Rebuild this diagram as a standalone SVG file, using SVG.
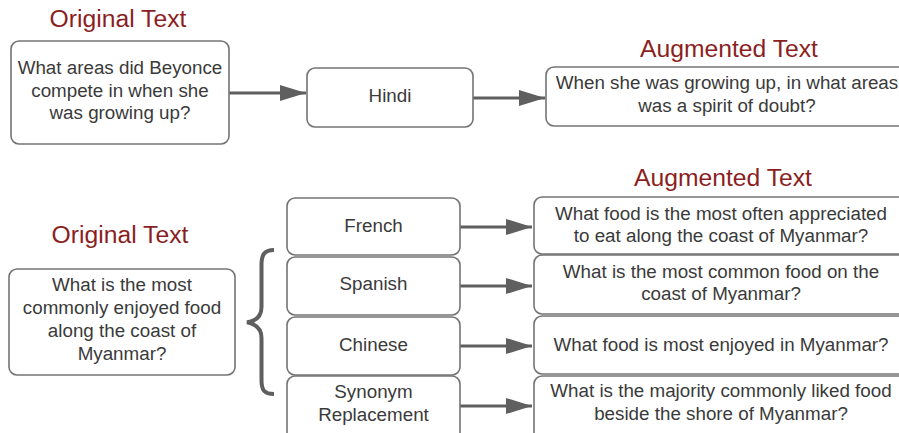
<svg xmlns="http://www.w3.org/2000/svg" width="899" height="433" viewBox="0 0 899 433">
<defs>
<marker id="ah" viewBox="0 0 26 16" refX="26" refY="8" markerWidth="26" markerHeight="16" markerUnits="userSpaceOnUse" orient="auto">
<path d="M0,0 L26,8 L0,16 Z" fill="#5f5f5f"/>
</marker>
<style>
.box{fill:#fff;stroke:#747474;stroke-width:1.6}
.t{font-family:"Liberation Sans",Arial,sans-serif;font-size:18.8px;fill:#3a3a3a;text-anchor:middle}
.h{font-family:"Liberation Sans",Arial,sans-serif;font-size:24.7px;fill:#8b1f1f;text-anchor:middle}
.c{stroke:#5f5f5f;stroke-width:3;fill:none}
</style>
</defs>
<rect width="899" height="433" fill="#fff"/>
<g id="titles">
<text class="h" x="118" y="27">Original Text</text>
<text class="h" x="729" y="57">Augmented Text</text>
<text class="h" x="120" y="243">Original Text</text>
<text class="h" x="723" y="186">Augmented Text</text>
</g>
<g id="connectors">
<line class="c" x1="229" y1="93" x2="306" y2="93" marker-end="url(#ah)"/>
<line class="c" x1="473" y1="98" x2="545" y2="98" marker-end="url(#ah)"/>
<line class="c" x1="460" y1="227" x2="532" y2="227" marker-end="url(#ah)"/>
<line class="c" x1="460" y1="286" x2="532" y2="286" marker-end="url(#ah)"/>
<line class="c" x1="460" y1="346" x2="532" y2="346" marker-end="url(#ah)"/>
<line class="c" x1="460" y1="406" x2="532" y2="406" marker-end="url(#ah)"/>
<path id="brace" d="M274,250 C264,250 261.5,255 261.5,265 L261.5,307 C261.5,316 256,321 247,322.3 C256,324 261.5,329 261.5,338 L261.5,380 C261.5,390 264,394 274,394" stroke="#5f5f5f" stroke-width="4" fill="none"/>
</g>
<g id="orig1">
<rect class="box" x="11" y="41" width="218" height="103" rx="8"/>
<text class="t" x="120" y="74">What areas did Beyonce</text>
<text class="t" x="120" y="97">compete in when she</text>
<text class="t" x="120" y="119">was growing up?</text>
</g>
<g id="hindi">
<rect class="box" x="307" y="68" width="166" height="59" rx="8"/>
<text class="t" x="390" y="102">Hindi</text>
</g>
<g id="aug1">
<rect class="box" x="546" y="67" width="362" height="59" rx="8"/>
<text class="t" x="727" y="89">When she was growing up, in what areas</text>
<text class="t" x="727" y="112">was a spirit of doubt?</text>
</g>
<g id="orig2">
<rect class="box" x="9" y="269" width="226" height="106" rx="8"/>
<text class="t" x="122" y="291">What is the most</text>
<text class="t" x="122" y="314">commonly enjoyed food</text>
<text class="t" x="122" y="337">along the coast of</text>
<text class="t" x="122" y="360">Myanmar?</text>
</g>
<g id="french">
<rect class="box" x="287" y="198" width="173" height="57" rx="8"/>
<text class="t" x="373.5" y="232">French</text>
</g>
<g id="spanish">
<rect class="box" x="287" y="257" width="173" height="58" rx="8"/>
<text class="t" x="373.5" y="290">Spanish</text>
</g>
<g id="chinese">
<rect class="box" x="287" y="317" width="173" height="58" rx="8"/>
<text class="t" x="373.5" y="351">Chinese</text>
</g>
<g id="synonym">
<rect class="box" x="287" y="376" width="173" height="66" rx="8"/>
<text class="t" x="373.5" y="398">Synonym</text>
<text class="t" x="373.5" y="421">Replacement</text>
</g>
<g id="aug-french">
<rect class="box" x="534" y="197" width="373" height="57" rx="8"/>
<text class="t" x="721" y="220">What food is the most often appreciated</text>
<text class="t" x="721" y="242">to eat along the coast of Myanmar?</text>
</g>
<g id="aug-spanish">
<rect class="box" x="534" y="255" width="373" height="59" rx="8"/>
<text class="t" x="721" y="278">What is the most common food on the</text>
<text class="t" x="721" y="300">coast of Myanmar?</text>
</g>
<g id="aug-chinese">
<rect class="box" x="534" y="316" width="373" height="58" rx="8"/>
<text class="t" x="721" y="351">What food is most enjoyed in Myanmar?</text>
</g>
<g id="aug-synonym">
<rect class="box" x="534" y="376" width="373" height="66" rx="8"/>
<text class="t" x="721" y="397">What is the majority commonly liked food</text>
<text class="t" x="721" y="420">beside the shore of Myanmar?</text>
</g>
</svg>
